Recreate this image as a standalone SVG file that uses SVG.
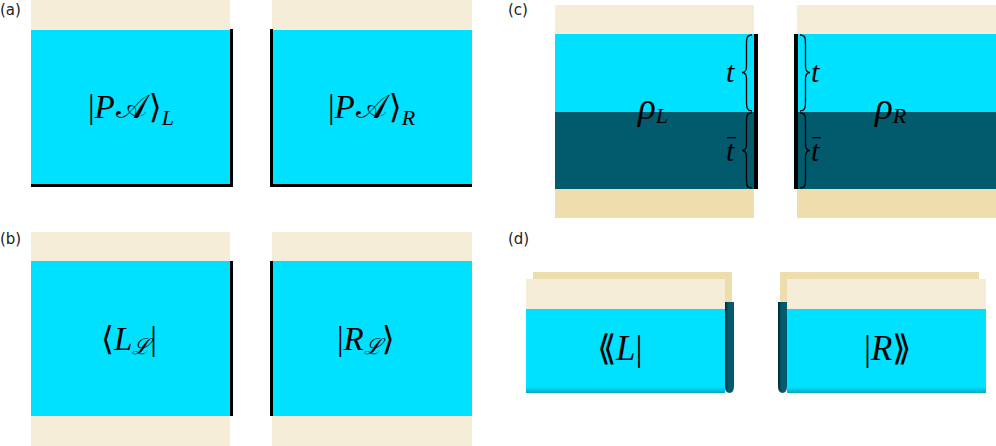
<svg xmlns="http://www.w3.org/2000/svg" width="996" height="446" viewBox="0 0 996 446">
<defs>
<style>
.bg{fill:#f5edd8}
.bg2{fill:#eedeae}
.cy{fill:#00e1ff}
.tl{fill:#025b6c}
.bk{fill:#000}
.lab{font-family:"DejaVu Sans",sans-serif;font-size:15px;fill:#222}
.m{font-family:"Liberation Serif","DejaVu Serif",serif;font-size:33px;fill:#000}
.tt{font-size:30px}
.rho{font-size:37px}
.i{font-style:italic}
.sub{font-size:22px;font-style:italic}
.br{fill:none;stroke:#000;stroke-width:1.3}
</style>
<linearGradient id="shade" x1="0" y1="0" x2="0" y2="1">
<stop offset="0" stop-color="#00e1ff"/>
<stop offset="0.93" stop-color="#00e1ff"/>
<stop offset="1" stop-color="#04a6bf"/>
</linearGradient>
<linearGradient id="tube" x1="0" y1="0" x2="1" y2="0">
<stop offset="0" stop-color="#01242c"/>
<stop offset="0.35" stop-color="#025b6c"/>
<stop offset="1" stop-color="#025b6c"/>
</linearGradient>
</defs>

<g id="labels">
<text class="lab" x="0" y="15">(a)</text>
<text class="lab" x="0" y="244">(b)</text>
<text class="lab" x="508" y="15">(c)</text>
<text class="lab" x="508" y="244">(d)</text>
</g>

<!-- (a) -->
<g id="a-left">
<rect class="bg" x="31" y="0" width="199" height="30"/>
<rect class="cy" x="31" y="30" width="199" height="154"/>
<rect class="bk" x="230" y="29" width="3" height="158"/>
<rect class="bk" x="31" y="184" width="202" height="3"/>
<text class="m" x="88" y="118">|<tspan class="i">P</tspan><tspan dx="1">𝒜</tspan><tspan dx="2">⟩</tspan><tspan class="sub" dy="7">L</tspan></text>
</g>
<g id="a-right">
<rect class="bg" x="272" y="0" width="200" height="30"/>
<rect class="cy" x="272" y="30" width="200" height="154"/>
<rect class="bk" x="270" y="29" width="3" height="158"/>
<rect class="bk" x="270" y="184" width="202" height="3"/>
<text class="m" x="328" y="118">|<tspan class="i">P</tspan><tspan dx="1">𝒜</tspan><tspan dx="2">⟩</tspan><tspan class="sub" dy="7">R</tspan></text>
</g>

<!-- (b) -->
<g id="b-left">
<rect class="bg" x="31" y="232" width="199" height="29"/>
<rect class="cy" x="31" y="261" width="199" height="155"/>
<rect class="bg" x="31" y="416" width="199" height="30"/>
<rect class="bk" x="230" y="261" width="3" height="155"/>
<text class="m" x="101" y="350">⟨<tspan class="i">L</tspan><tspan class="sub" dy="4">ℒ</tspan><tspan dy="-4">|</tspan></text>
</g>
<g id="b-right">
<rect class="bg" x="272" y="232" width="200" height="29"/>
<rect class="cy" x="272" y="261" width="200" height="155"/>
<rect class="bg" x="272" y="416" width="200" height="30"/>
<rect class="bk" x="270" y="261" width="3" height="155"/>
<text class="m" x="337" y="350">|<tspan class="i">R</tspan><tspan class="sub" dy="4">ℒ</tspan><tspan dy="-4">⟩</tspan></text>
</g>

<!-- (c) -->
<g id="c-left">
<rect class="bg" x="555" y="5" width="199" height="29"/>
<rect class="cy" x="555" y="34" width="199" height="78"/>
<rect class="tl" x="555" y="112" width="199" height="77"/>
<rect class="bg2" x="555" y="189" width="199" height="29"/>
<rect class="bk" x="754" y="34" width="4" height="155"/>
<path class="br" d="M752,35 C746.5,35 746.5,38 746.5,45 L746.5,66 C746.5,70 745,72.5 742,72.5 C745,72.5 746.5,75 746.5,79 L746.5,100 C746.5,107 746.5,111 752,111"/>
<path class="br" d="M752,113 C746.5,113 746.5,116 746.5,123 L746.5,144 C746.5,148 745,150.5 742,150.5 C745,150.5 746.5,153 746.5,157 L746.5,178 C746.5,185 746.5,188 752,188"/>
<text class="m tt i" x="726" y="82">t</text>
<text class="m tt i" x="726" y="161">t</text>
<rect class="bk" x="727" y="137" width="9" height="1.4"/>
<text class="m rho" x="638" y="119"><tspan class="i">ρ</tspan><tspan class="sub" dy="4">L</tspan></text>
</g>
<g id="c-right">
<rect class="bg" x="797" y="5" width="199" height="29"/>
<rect class="cy" x="797" y="34" width="199" height="78"/>
<rect class="tl" x="797" y="112" width="199" height="77"/>
<rect class="bg2" x="797" y="189" width="199" height="29"/>
<rect class="bk" x="794" y="34" width="4" height="155"/>
<path class="br" d="M800,35 C805.5,35 805.5,38 805.5,45 L805.5,66 C805.5,70 807,72.5 810,72.5 C807,72.5 805.5,75 805.5,79 L805.5,100 C805.5,107 805.5,111 800,111"/>
<path class="br" d="M800,113 C805.5,113 805.5,116 805.5,123 L805.5,144 C805.5,148 807,150.5 810,150.5 C807,150.5 805.5,153 805.5,157 L805.5,178 C805.5,185 805.5,188 800,188"/>
<text class="m tt i" x="811" y="82">t</text>
<text class="m tt i" x="811" y="161">t</text>
<rect class="bk" x="812" y="137" width="9" height="1.4"/>
<text class="m rho" x="875" y="119"><tspan class="i">ρ</tspan><tspan class="sub" dy="4">R</tspan></text>
</g>

<!-- (d) -->
<g id="d-left">
<rect class="bg2" x="533" y="272" width="199" height="30"/>
<rect class="bg" x="526" y="279" width="199" height="30"/>
<rect x="526" y="309" width="199" height="84" fill="url(#shade)"/>
<path d="M725,302 H734 V386 Q734,393 729.5,393 Q725,393 725,386 Z" fill="url(#tube)"/>
<text class="m" x="597" y="360" style="font-size:35px">⟪<tspan class="i">L</tspan>|</text>
</g>
<g id="d-right">
<rect class="bg2" x="780" y="272" width="199" height="30"/>
<rect class="bg" x="787" y="279" width="199" height="30"/>
<rect x="787" y="309" width="199" height="84" fill="url(#shade)"/>
<path d="M778,302 H787 V386 Q787,393 782.5,393 Q778,393 778,386 Z" fill="url(#tube)"/>
<text class="m" x="864" y="360" style="font-size:35px">|<tspan class="i">R</tspan>⟫</text>
</g>
</svg>
